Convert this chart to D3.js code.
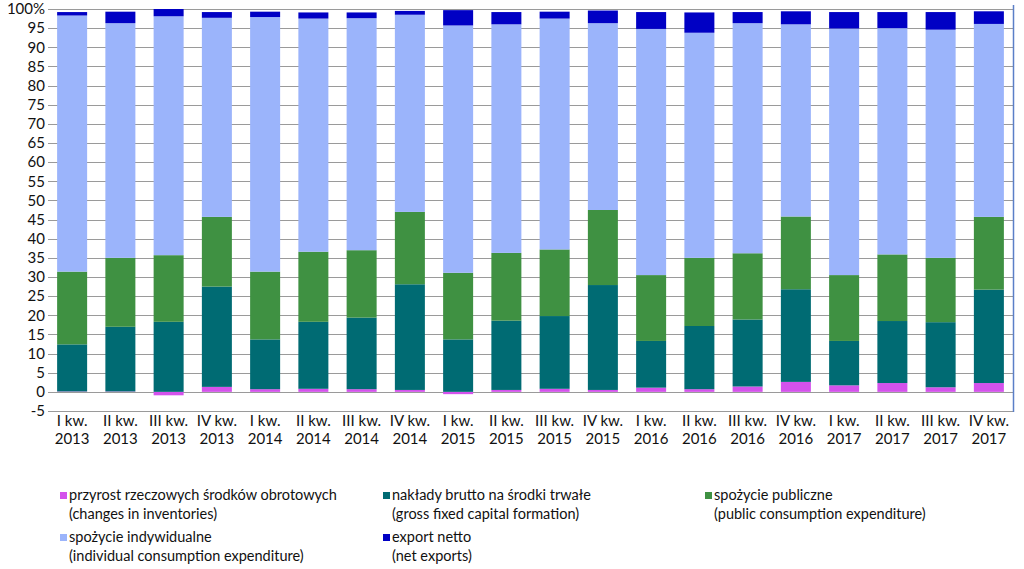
<!DOCTYPE html>
<html><head><meta charset="utf-8">
<script src="https://cdn.jsdelivr.net/npm/d3@7"></script>
<style>body{margin:0;background:#fff;}svg{display:block;font-family:Lato,"Noto Sans",sans-serif;}</style>
</head><body><svg id="c" width="1024" height="569"></svg>
<script>
const quarters = ["I kw.","II kw.","III kw.","IV kw.","I kw.","II kw.","III kw.","IV kw.","I kw.","II kw.","III kw.","IV kw.","I kw.","II kw.","III kw.","IV kw.","I kw.","II kw.","III kw.","IV kw."];
const years = ["2013","2013","2013","2013","2014","2014","2014","2014","2015","2015","2015","2015","2016","2016","2016","2016","2017","2017","2017","2017"];
const inventories = [0.1,0.1,-0.9,1.3,0.7,0.8,0.7,0.5,-0.6,0.5,0.8,0.5,1.1,0.7,1.4,2.6,1.7,2.3,1.2,2.3];
const gfcf = [12.3,16.9,18.3,26.2,13.0,17.5,18.7,27.6,13.7,18.1,19.0,27.4,12.2,16.5,17.5,24.2,11.6,16.2,17.0,24.4];
const publicCons = [19.0,18.0,17.4,18.2,17.7,18.3,17.6,18.9,17.4,17.7,17.4,19.6,17.2,17.8,17.3,19.0,17.2,17.4,16.8,19.0];
const individualCons = [66.9,61.3,62.4,52.0,66.5,60.9,60.6,51.5,64.6,59.7,60.3,48.8,64.3,58.8,60.1,50.2,64.4,59.1,59.6,50.4];
const netExports = [0.9,3.0,1.9,1.5,1.4,1.6,1.5,1.0,4.0,3.2,1.8,3.3,4.4,5.3,2.9,3.4,4.3,4.2,4.6,3.3];
const yTicks = [-5,0,5,10,15,20,25,30,35,40,45,50,55,60,65,70,75,80,85,90,95,100];
const seriesNames = [
  ["przyrost rzeczowych środków obrotowych","(changes in inventories)"],
  ["nakłady brutto na środki trwałe","(gross fixed capital formation)"],
  ["spożycie publiczne","(public consumption expenditure)"],
  ["spożycie indywidualne","(individual consumption expenditure)"],
  ["export netto","(net exports)"]
];
const colors = ["#d452ec","#006b73","#3f9142","#9bb4fb","#0000c4"];

const keys = ["inv","gfcf","pub","ind","exp"];
const table = quarters.map((q,i)=>({idx:i, inv:inventories[i], gfcf:gfcf[i], pub:publicCons[i], ind:individualCons[i], exp:netExports[i]}));
const stack = d3.stack().keys(keys).offset(d3.stackOffsetDiverging)(table);

const svg = d3.select("#c");
const pLeft=48, pRight=1013, pTop=9, pBottom=411;
const x = d3.scaleBand().domain(d3.range(quarters.length)).range([pLeft,pRight]).paddingInner(0.378).paddingOuter(0.189);
const y = d3.scaleLinear().domain([-5,100]).range([pBottom,pTop]);

// grid
svg.append("g").selectAll("line").data(yTicks).join("line")
  .attr("x1",pLeft).attr("x2",pRight).attr("y1",d=>Math.round(y(d))+0.5).attr("y2",d=>Math.round(y(d))+0.5)
  .attr("stroke","#9a9a9a").attr("stroke-width",1.2);

// bars
svg.append("g").selectAll("g").data(stack).join("g").attr("fill",(d,i)=>colors[i])
  .selectAll("rect").data(d=>d).join("rect")
  .attr("x",d=>x(d.data.idx)).attr("width",x.bandwidth())
  .attr("y",d=>y(Math.max(d[0],d[1]))).attr("height",d=>Math.abs(y(d[0])-y(d[1])));

// right border
svg.append("line").attr("x1",pRight+0.5).attr("x2",pRight+0.5).attr("y1",pTop-4).attr("y2",pBottom+1)
  .attr("stroke","#5b7fc8").attr("stroke-width",1.5);

// y labels
svg.append("g").selectAll("text").data(yTicks).join("text")
  .attr("x",45).attr("y",d=>y(d)).attr("dy","0.35em").attr("text-anchor","end")
  .attr("font-size",15).attr("fill","#111").text(d=>d===100?"100%":d);

// x labels
const xl = svg.append("g").selectAll("text").data(quarters).join("text")
  .attr("text-anchor","middle").attr("font-size",15).attr("fill","#111");
xl.append("tspan").attr("x",(d,i)=>x(i)+x.bandwidth()/2).attr("y",426).text(d=>d);
xl.append("tspan").attr("x",(d,i)=>x(i)+x.bandwidth()/2).attr("y",444).text((d,i)=>years[i]);

// legend
const legPos = [[60,500],[383,500],[705,500],[60,542],[383,542]];
const lg = svg.append("g").selectAll("g").data(seriesNames).join("g")
  .attr("transform",(d,i)=>`translate(${legPos[i][0]},${legPos[i][1]})`);
lg.append("rect").attr("x",0).attr("y",-8).attr("width",7).attr("height",7).attr("fill",(d,i)=>colors[i]);
lg.append("text").attr("x",9).attr("y",0).attr("font-size",14.5).attr("fill","#111").text(d=>d[0]);
lg.append("text").attr("x",9).attr("y",19).attr("font-size",14.5).attr("fill","#111").text(d=>d[1]);
</script></body></html>
